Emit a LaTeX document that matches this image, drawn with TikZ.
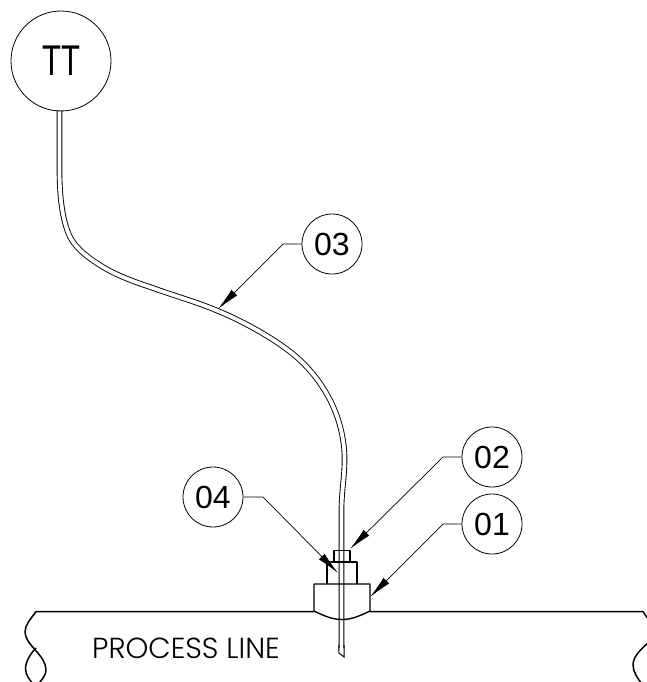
\documentclass[tikz,border=0pt]{standalone}
\usepackage{fontspec}
\setmainfont{Liberation Sans}
\newfontfamily\labelfont{Poppins Light}
\newfontfamily\ttfont[FakeStretch=0.72]{Liberation Sans}
\usetikzlibrary{arrows.meta}
\tikzset{
  x=1pt,y=-1pt,
  balloon/.style={draw,circle,line width=0.8pt,minimum size=60pt,inner sep=0pt,font=\fontsize{32}{32}\selectfont},
  leader/.style={line width=0.7pt,-{Latex[length=23pt,width=8pt]}},
  part/.style={line width=1.4pt,line join=round},
  pipeline/.style={line width=1.5pt,line join=round},
  tube/.style={line width=0.8pt}
}
\begin{document}
\begin{tikzpicture}
\useasboundingbox (0,0) rectangle (647,682);
\begin{scope}
\clip (0,0) rectangle (647,682);
\def\tubepath{(59.5,110.5) -- (59.5,170) .. controls (59.5,195) and (62,220) .. (70,237) .. controls (77,250) and (90,259) .. (103,267) .. controls (118,276) and (135,282) .. (150,287) .. controls (175,296) and (197,302) .. (218,311) .. controls (245,322) and (283,343) .. (303,363) .. controls (328,388) and (343,420) .. (344.5,455) .. controls (345,475) and (341.5,490) .. (341.5,510) -- (341.5,650)}
\draw[line width=5.6pt,black] \tubepath;
\draw[line width=3.8pt,white] \tubepath;
\node[balloon,minimum size=100pt,font=\ttfont\fontsize{43}{43}\selectfont] (tt) at (61,61) {TT};
\node[balloon] (n03) at (332,244) {03};
\node[balloon] (n02) at (492,457) {02};
\node[balloon] (n01) at (492,524) {01};
\node[balloon] (n04) at (213,497) {04};
\coordinate (e03) at (283,244);
\coordinate (t03) at (218,309);
\coordinate (e02) at (443,457);
\coordinate (t02) at (350,549);
\coordinate (e01) at (443,524);
\coordinate (t01) at (370,597);
\coordinate (e04) at (263,497);
\coordinate (t04) at (338,573);
\fill[white] (338.5,648) rectangle (344.5,660);
\draw[tube,line width=1pt] (338.9,645) -- (338.9,653) -- (344.1,657) -- (344.1,645);
% pipe
\draw[pipeline] (314,611.5) -- (36,611.5) .. controls (30,620) and (25,625) .. (25,632) .. controls (25,645) and (46,655) .. (46,670) .. controls (46,675) and (42,680) .. (38,684);
\draw[pipeline] (36,648) .. controls (30,654) and (25.5,662) .. (25.5,669) .. controls (25.5,675) and (30,680) .. (33,684);
\draw[pipeline] (370,611.5) -- (643,611.5) -- (650,622);
\draw[pipeline] (648,643) .. controls (640,650) and (633,657) .. (633,665) .. controls (633,672) and (638,679) .. (642,684);
\node[font=\labelfont\fontsize{29}{29}\selectfont,inner sep=0pt] (label) at (186,648) {PROCESS LINE};
% fitting
\draw[part] (314,611) -- (314,584) -- (370,584) -- (370,611) .. controls (358,617) and (350,619.5) .. (342,619.5) .. controls (334,619.5) and (326,617) .. (314,611);
\draw[part] (327,584) -- (327,562) -- (357,562) -- (357,584);
\draw[part,line width=1.1pt] (334,562) -- (334,550.5) -- (350,550.5) -- (350,562);
% leaders
\draw[leader] (n03.west) -- (e03) -- (t03);
\draw[leader] (n02.west) -- (e02) -- (t02);
\draw[leader] (n01.west) -- (e01) -- (t01);
\draw[leader] (n04.east) -- (e04) -- (t04);
\end{scope}
\end{tikzpicture}
\end{document}
